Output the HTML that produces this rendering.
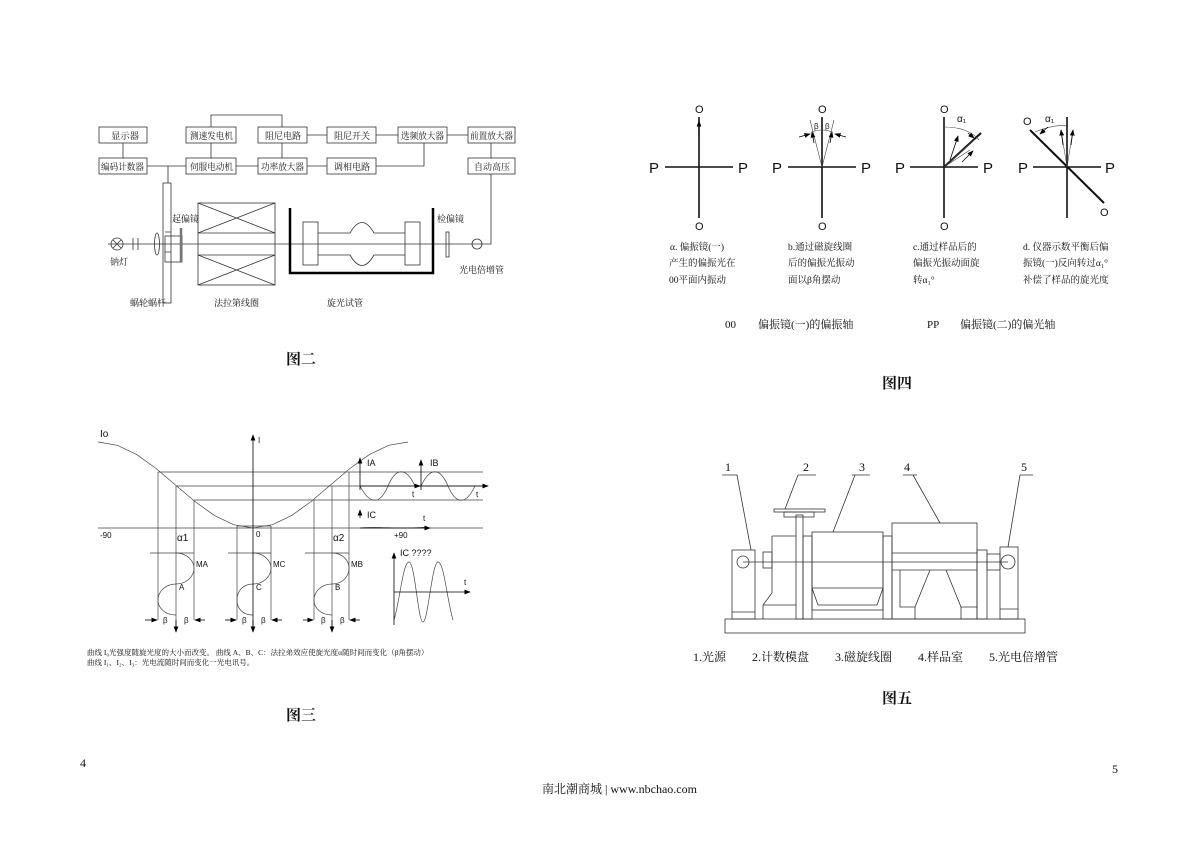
<!DOCTYPE html>
<html><head><meta charset="utf-8"><style>
html,body{margin:0;padding:0;background:#fff}
svg{display:block}
text{font-family:"Liberation Serif","Noto Serif CJK SC",serif;fill:#111}
.s text,text.s{font-family:"Liberation Sans","Noto Sans CJK SC",sans-serif}
</style></head><body>
<svg width="1200" height="848" viewBox="0 0 1200 848" xmlns="http://www.w3.org/2000/svg">
<defs><marker id="ar" markerWidth="8" markerHeight="6" refX="7" refY="3" orient="auto"><path d="M0,0 L8,3 L0,6z" fill="#000"/></marker></defs>

<!-- ============ 图二 ============ -->
<g stroke="#333" stroke-width="0.8" fill="none">
<rect x="99" y="127" width="48" height="16"/>
<rect x="186" y="127" width="50" height="16"/>
<rect x="258" y="127" width="49" height="16"/>
<rect x="327" y="127" width="49" height="16"/>
<rect x="398" y="127" width="49" height="16"/>
<rect x="468" y="127" width="47" height="16"/>
<rect x="99" y="158" width="48" height="16"/>
<rect x="186" y="158" width="50" height="16"/>
<rect x="258" y="158" width="49" height="16"/>
<rect x="327" y="158" width="49" height="16"/>
<rect x="468" y="158" width="47" height="16"/>
<path d="M123 143V158 M211 127V115H282V127 M211 143V158 M282 143V158 M307 135H327 M376 135H398 M447 135H468 M491 143V158 M147 166H186 M236 166H258 M307 166H327 M376 166H424V143 M168 166V183 M491 174V244H477"/>
<rect x="163" y="183" width="8" height="120"/>
<rect x="198" y="203" width="77" height="82"/>
<path d="M198 233H275 M198 255H275 M198 203L275 233 M275 203L198 233 M198 255L275 285 M275 255L198 285"/>
<rect x="303" y="222" width="15" height="43"/>
<rect x="405" y="222" width="15" height="43"/>
<path d="M318 233H350 M374 233H405 M318 255H350 M374 255H405"/>
<path d="M350 233 Q362 212 374 233 M350 255 Q362 276 374 255"/>
<path d="M108 244H477"/>
<circle cx="117" cy="244" r="6"/>
<path d="M113 240L121 248 M121 240L113 248 M133 238V250 M138 238V250"/>
<ellipse cx="157" cy="244" rx="2.5" ry="11"/>
<rect x="165" y="236" width="17" height="26"/>
<path d="M165 232H171 M165 252H171"/>
<rect x="446" y="232" width="3" height="25"/>
<circle cx="477" cy="244" r="5"/>
</g>
<g stroke="#000" fill="none">
<path d="M181 228V262" stroke-width="2.5" stroke="#777"/>
<path d="M290 208V273H433V208" stroke-width="2.5"/>
</g>
<g font-size="9">
<text x="111" y="139" textLength="28" lengthAdjust="spacingAndGlyphs">显示器</text>
<text x="190" y="139" textLength="43" lengthAdjust="spacingAndGlyphs">测速发电机</text>
<text x="265" y="139" textLength="36" lengthAdjust="spacingAndGlyphs">阻尼电路</text>
<text x="334" y="139" textLength="36" lengthAdjust="spacingAndGlyphs">阻尼开关</text>
<text x="401" y="139" textLength="43" lengthAdjust="spacingAndGlyphs">选频放大器</text>
<text x="470" y="139" textLength="43" lengthAdjust="spacingAndGlyphs">前置放大器</text>
<text x="101" y="170" textLength="43" lengthAdjust="spacingAndGlyphs">编码计数器</text>
<text x="190" y="170" textLength="43" lengthAdjust="spacingAndGlyphs">伺服电动机</text>
<text x="261" y="170" textLength="43" lengthAdjust="spacingAndGlyphs">功率放大器</text>
<text x="334" y="170" textLength="36" lengthAdjust="spacingAndGlyphs">调相电路</text>
<text x="474" y="170" textLength="36" lengthAdjust="spacingAndGlyphs">自动高压</text>
<text x="172" y="222">起偏镜</text>
<text x="437" y="222">检偏镜</text>
<text x="110" y="265">钠灯</text>
<text x="459" y="273">光电倍增管</text>
<text x="130" y="306">蜗轮蜗杆</text>
<text x="214" y="306">法拉第线圈</text>
<text x="327" y="306">旋光试管</text>
</g>
<text x="286" y="364" font-size="15" font-weight="bold">图二</text>

<!-- ============ 图三 ============ -->
<g stroke="#444" stroke-width="0.7" fill="none">
<path d="M98 442 L117.4 445.3 L136.8 454.6 L156.1 468.5 L175.5 485 L194.9 501.5 L214.3 515.4 L233.6 524.7 L253 528 L272.4 524.7 L291.8 515.4 L311.1 501.5 L330.5 485 L349.9 468.5 L369.3 454.6 L388.6 445.3 L408 442"/>
<path d="M158 472H483 M176 486H483 M194 500H483 M98 528H483 M237 526H271"/>
<path d="M158 472V620 M176 486V630 M194 500V620 M237 526V620 M271 526V620 M314 500V620 M332 486V630 M349 472V620"/>
<path d="M150 553H194 M228 553H271 M305 553H349"/>
<path d="M176 553 C187 553 194 561 194 568 C194 576 187 584 176 584 C165 584 158 592 158 600 C158 608 165 615 176 615"/>
<path d="M253 553 C264 553 271 561 271 568 C271 576 264 584 253 584 C242 584 237 592 237 600 C237 608 242 615 253 615"/>
<path d="M332 553 C343 553 349 561 349 568 C349 576 343 584 332 584 C321 584 314 592 314 600 C314 608 321 615 332 615"/>
<path d="M360 486 C370 505 380 505 388 486 C396 467 406 467 415 486"/>
<path d="M421 486 C430 467 440 467 448 486 C456 505 466 505 475 486"/>
<path d="M360 528 C380 526 400 530 427 527"/>
<path d="M394 620 C400 600 403 562 409 562 C415 562 418 622 423 622 C428 622 432 562 438 562 C444 562 447 600 453 620"/>
</g>
<g stroke="#000" stroke-width="0.8" fill="none" marker-end="url(#ar)">
<path d="M253 632V435"/>
<path d="M360 490V458"/><path d="M360 486H420"/>
<path d="M421 490V460"/><path d="M420 486H488"/>
<path d="M360 518V510"/><path d="M360 528H430"/>
<path d="M394 625V553"/><path d="M394 592H470"/>
<path d="M176 620V632"/><path d="M253 620V632"/><path d="M332 620V632"/>
<path d="M145 620H157"/><path d="M205 620H195"/>
<path d="M225 620H236"/><path d="M282 620H272"/>
<path d="M303 620H313"/><path d="M360 620H350"/>
</g>
<g class="s" font-size="8">
<text x="100" y="437" font-size="10" fill="#444">Io</text>
<text x="258" y="443" fill="#444">I</text>
<text x="367" y="466" font-size="9" fill="#444">IA</text>
<text x="430" y="466" font-size="9" fill="#444">IB</text>
<text x="367" y="518" font-size="9" fill="#444">IC</text>
<text x="400" y="556" font-size="9" fill="#444">IC ????</text>
<text x="412" y="497" fill="#444">t</text><text x="476" y="497" fill="#444">t</text>
<text x="423" y="521" fill="#444">t</text><text x="464" y="585" fill="#444">t</text>
<text x="100" y="538" fill="#444">-90</text><text x="256" y="537" fill="#444">0</text><text x="394" y="538" fill="#444">+90</text>
<text x="177" y="541" font-size="10" fill="#444">α1</text><text x="333" y="541" font-size="10" fill="#444">α2</text>
<text x="179" y="590" fill="#444">A</text><text x="256" y="590" fill="#444">C</text><text x="335" y="590" fill="#444">B</text>
<text x="196" y="567" fill="#444">MA</text><text x="273" y="567" fill="#444">MC</text><text x="351" y="567" fill="#444">MB</text>
<text x="163" y="623" fill="#444">β</text><text x="184" y="623" fill="#444">β</text>
<text x="242" y="623" fill="#444">β</text><text x="261" y="623" fill="#444">β</text>
<text x="321" y="623" fill="#444">β</text><text x="340" y="623" fill="#444">β</text>
</g>
<g font-size="7.5">
<text x="87" y="655">曲线  I₀光强度随旋光度的大小而改变。    曲线  A、B、C：法拉弟效应使旋光度α随时间而变化（β角摆动）</text>
<text x="87" y="665">曲线  I₁、I₂、I₃：光电流随时间而变化一光电讯号。</text>
</g>
<text x="286" y="720" font-size="15" font-weight="bold">图三</text>

<!-- ============ 图四 ============ -->
<g stroke="#111" stroke-width="1.6" fill="none">
<path d="M699 117V218 M665 167H733"/>
<path d="M822 117V218 M788 167H856"/>
<path d="M944 117V218 M910 167H978"/>
<path d="M1067 117V218 M1033 167H1101"/>
<path d="M944 167L981 133" stroke-width="2"/>
<path d="M1030 130L1104 203" stroke-width="2"/>
</g>
<g stroke="#444" stroke-width="0.6" fill="none">
<path d="M822 167L810 120 M822 167L834 120"/>
<path d="M812 132 Q822 128 832 132"/>
<path d="M944 167L975 139 M944 167L970 150"/>
<path d="M944 127 Q968 127 979 140"/>
<path d="M1067 167L1061 130 M1067 167L1073 130"/>
<path d="M1035 132 Q1055 124 1067 126"/>
</g>
<g stroke="#000" stroke-width="0.8" fill="none" marker-end="url(#ar)">
<path d="M699 135V121"/>
<path d="M814 143L812 132"/><path d="M830 143L832 132"/>
<path d="M799 137L810 134"/><path d="M846 137L835 134"/>
<path d="M950 160L958 136"/><path d="M968 133L974 138"/><path d="M962 162L973 151"/>
<path d="M1063 145L1061 130"/><path d="M1071 145L1073 130"/><path d="M1048 127L1040 134"/>
</g>
<g class="s" font-size="15">
<text x="649" y="173" fill="#666">P</text><text x="738" y="173" fill="#666">P</text>
<text x="772" y="173" fill="#666">P</text><text x="861" y="173" fill="#666">P</text>
<text x="895" y="173" fill="#666">P</text><text x="983" y="173" fill="#666">P</text>
<text x="1018" y="173" fill="#666">P</text><text x="1105" y="173" fill="#666">P</text>
<text x="695" y="113" font-size="11" fill="#555">O</text><text x="695" y="230" font-size="11" fill="#555">O</text>
<text x="818" y="113" font-size="11" fill="#555">O</text><text x="818" y="230" font-size="11" fill="#555">O</text>
<text x="940" y="113" font-size="11" fill="#555">O</text><text x="940" y="230" font-size="11" fill="#555">O</text>
<text x="1023" y="125" font-size="11" fill="#555">O</text><text x="1100" y="216" font-size="11" fill="#555">O</text>
<text x="814" y="129" font-size="8" fill="#444">β</text><text x="825" y="129" font-size="8" fill="#444">β</text>
<text x="957" y="122" font-size="10" fill="#444">α₁</text><text x="1045" y="122" font-size="10" fill="#444">α₁</text>
</g>
<g font-size="9.5" fill="#333">
<text x="670" y="250">α. 偏振镜(一)</text><text x="669" y="266">产生的偏振光在</text><text x="669" y="283">00平面内振动</text>
<text x="788" y="250">b.通过磁旋线圈</text><text x="788" y="266">后的偏振光振动</text><text x="788" y="283">面以β角摆动</text>
<text x="913" y="250">c.通过样品后的</text><text x="913" y="266">偏振光振动面旋</text><text x="913" y="283">转α₁°</text>
<text x="1023" y="250">d. 仪器示数平衡后偏</text><text x="1023" y="266">振镜(一)反向转过α₁°</text><text x="1023" y="283">补偿了样品的旋光度</text>
</g>
<g font-size="11" fill="#333">
<text x="725" y="328">00</text><text x="758" y="328">偏振镜(一)的偏振轴</text>
<text x="927" y="328">PP</text><text x="960" y="328">偏振镜(二)的偏光轴</text>
</g>
<text x="882" y="388" font-size="15" font-weight="bold">图四</text>

<!-- ============ 图五 ============ -->
<g stroke="#333" stroke-width="0.8" fill="none">
<rect x="725" y="619" width="300" height="14"/>
<rect x="732" y="550" width="23" height="69"/><path d="M732 612H755"/>
<circle cx="743" cy="562" r="6"/>
<rect x="763" y="552" width="9" height="16"/>
<path d="M772 536H796 M772 536V593L763 605V619 M763 605H796"/>
<rect x="796" y="515" width="7" height="104"/>
<rect x="784" y="512" width="30" height="5"/>
<rect x="774" y="509" width="51" height="3"/>
<rect x="803" y="536" width="9" height="83"/>
<rect x="812" y="532" width="71" height="78"/>
<path d="M812 588H883 M812 588L818 605 M883 588L877 605 M818 605H877"/>
<rect x="883" y="536" width="9" height="83"/>
<rect x="892" y="523" width="85" height="96"/>
<path d="M892 553H977 M892 570H977"/>
<path d="M930 570L915 607 M946 570L961 607 M900 570V607H915V619 M961 607H977 M961 607V619"/>
<rect x="977" y="550" width="10" height="69"/>
<rect x="987" y="554" width="13" height="16"/>
<rect x="1000" y="547" width="18" height="72"/><path d="M1000 609H1018"/>
<circle cx="1008" cy="562" r="7"/>
<path d="M743 562H1008"/>
<path d="M722 475H737L751 550 M798 475H816 M798 475L785 509 M852 475H870 M855 475L833 532 M903 475H917 M913 475L940 523 M1020 475H1033 M1020 475L1008 547"/>
</g>
<g font-size="12" fill="#222">
<text x="725" y="471">1</text><text x="803" y="471">2</text><text x="859" y="471">3</text><text x="904" y="471">4</text><text x="1021" y="471">5</text>
</g>
<g font-size="12" fill="#222">
<text x="693" y="661">1.光源</text><text x="752" y="661">2.计数模盘</text><text x="835" y="661">3.磁旋线圈</text><text x="918" y="661">4.样品室</text><text x="989" y="661">5.光电倍增管</text>
</g>
<text x="882" y="703" font-size="15" font-weight="bold">图五</text>

<text x="80" y="767" font-size="12">4</text>
<text x="1112" y="773" font-size="12">5</text>
<text x="542" y="793" font-size="12">南北潮商城 | www.nbchao.com</text>
</svg>
</body></html>
